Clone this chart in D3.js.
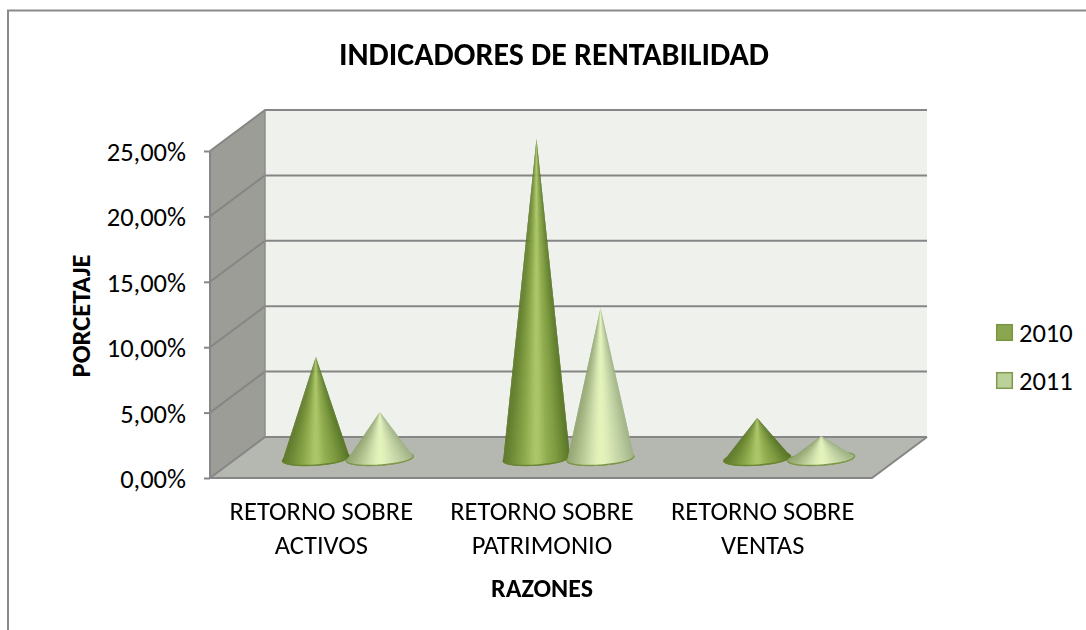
<!DOCTYPE html>
<html><head><meta charset="utf-8">
<script src="https://cdn.jsdelivr.net/npm/d3@7/dist/d3.min.js"></script>
<style>html,body{margin:0;padding:0;background:#fff}svg{display:block}text{font-family:Carlito,Calibri,Lato,sans-serif;fill:#000}</style>
</head><body><svg id="c" width="1086" height="630">
<defs><filter id="soft" x="-5%" y="-5%" width="110%" height="110%"><feGaussianBlur stdDeviation="0.45"/></filter></defs>
</svg>
<script>
const title = "INDICADORES DE RENTABILIDAD";
const yTitle = "PORCETAJE";
const xTitle = "RAZONES";
const categories = ["RETORNO SOBRE ACTIVOS","RETORNO SOBRE PATRIMONIO","RETORNO SOBRE VENTAS"];
const catLines = [["RETORNO SOBRE","ACTIVOS"],["RETORNO SOBRE","PATRIMONIO"],["RETORNO SOBRE","VENTAS"]];
const seriesNames = ["2010","2011"];
const values2010 = [7.68,24.35,3.02];
const values2011 = [3.48,11.43,1.64];
const yTicks = [0,5,10,15,20,25];
const ramp2010 = ["#587529","#6f8d36","#86a247","#92ae50","#b6d074","#98b455","#84a044","#6f8b38","#5f7a2c"];
const ramp2011 = ["#a0b286","#b6c89a","#c8d8a8","#dbeab8","#e8f8bc","#d8e8b4","#c0d09c","#a8b986","#94a674"];
const legendFill = ["#8aa650","#bcd09a"];
const legendStroke = ["#7a9642","#7f9a50"];
const rimFill = ["#8ca84a","#c4d69c"];
const rimStroke = ["#68842f","#7c9548"];

const svg = d3.select("#c");
const x0=210,x1=872,y0=478,y1=151,dx=55,dy=-41;
const y = d3.scaleLinear().domain([0,25]).range([y0,y1]);
const x = d3.scaleBand().domain(categories).range([x0,x1]);
const xs = d3.scaleBand().domain(seriesNames).range([-64,64]);
const line = d3.line();

// frame
svg.append("path").attr("d","M8,630V10.5H1086").attr("fill","none").attr("stroke","#8a8a8a").attr("stroke-width",2);

// walls
const wall = svg.append("g");
wall.append("path").attr("d",line([[x0+dx,y1+dy],[x1+dx,y1+dy],[x1+dx,y0+dy],[x0+dx,y0+dy]])+"Z").attr("fill","#eff1ec");
wall.append("path").attr("d",line([[x0,y0],[x0+dx,y0+dy],[x0+dx,y1+dy],[x0,y1]])+"Z").attr("fill","#9b9d96");
wall.append("path").attr("d",line([[x0,y0],[x0+dx,y0+dy],[x1+dx,y0+dy],[x1,y0]])+"Z").attr("fill","#b5b7b1");
// gridlines
yTicks.forEach(t=>{
  wall.append("path").attr("d",line([[x0,y(t)],[x0+dx,y(t)+dy],[x1+dx,y(t)+dy]]))
    .attr("fill","none").attr("stroke","#868686").attr("stroke-width",2);
});
wall.append("path").attr("d",line([[x0,y1],[x0,y0],[x1,y0],[x1+dx,y0+dy]])).attr("fill","none").attr("stroke","#868686").attr("stroke-width",2);
wall.append("path").attr("d",line([[x0+dx,y1+dy],[x0+dx,y0+dy]])).attr("fill","none").attr("stroke","#8d8e88").attr("stroke-width",1.5);

// y axis
const loc = d3.formatLocale({decimal:",",thousands:".",grouping:[3],currency:["",""]});
const fmt = v=>loc.format(".2f")(v)+"%";
const ax = svg.append("g").attr("transform",`translate(${x0},0)`)
  .call(d3.axisLeft(y).tickValues(yTicks).tickFormat(fmt).tickSize(6).tickPadding(18));
ax.select(".domain").remove();
ax.selectAll("line").attr("stroke","#868686").attr("stroke-width",2);
ax.selectAll("text").attr("font-size",26.5).attr("dy","0.36em").style("font-family","Carlito,Calibri,Lato,sans-serif");

// cones
const rx=33.5, ry=6.5, tilt=-4*Math.PI/180, N=50;
const color = [d3.interpolateRgbBasis(ramp2010), d3.interpolateRgbBasis(ramp2011)];
[values2010,values2011].forEach((vals,si)=>{
  const g = svg.append("g").attr("filter","url(#soft)");
  vals.forEach((v,ci)=>{
    const cx = x(categories[ci])+x.bandwidth()/2+dx/2+xs(seriesNames[si])+xs.bandwidth()/2;
    const cy = y(0)+dy/2+1;
    const tip = [cx, y(v)+dy/2];
    const pt = a=>{
      const ex=rx*Math.cos(a), ey=ry*Math.sin(a);
      return [cx+ex*Math.cos(tilt)-ey*Math.sin(tilt), cy+ex*Math.sin(tilt)+ey*Math.cos(tilt)];
    };
    g.append("ellipse").attr("cx",cx).attr("cy",cy).attr("rx",rx).attr("ry",ry)
      .attr("transform",`rotate(-4 ${cx} ${cy})`)
      .attr("fill",rimFill[si]).attr("stroke",rimStroke[si]).attr("stroke-width",1.5);
    for(let i=0;i<N;i++){
      const ang = k=>Math.PI*(1-Math.min(k,N)/N);
      const am = ang(i+.5);
      const c=color[si]((1+Math.cos(Math.PI-am))/2);
      g.append("path").attr("d",line([tip,pt(ang(i)),pt(ang(i+1)),pt(ang(i+2))])+"Z").attr("fill",c);
    }
    const arc = d3.range(0,N+1).map(i=>pt(Math.PI*(1-i/N)));
    g.append("path").attr("d",line(arc)).attr("fill","none").attr("stroke",rimStroke[si]).attr("stroke-width",1.2);
  });
});

// category labels
categories.forEach((c,i)=>{
  const t = svg.append("text").attr("text-anchor","middle").attr("font-size",26.5);
  catLines[i].forEach((l,j)=>t.append("tspan").attr("x",x(c)+x.bandwidth()/2+1).attr("y",520+j*34).text(l));
});
// titles
svg.append("text").attr("x",554).attr("y",65).attr("text-anchor","middle").attr("font-size",32).attr("font-weight","bold").text(title);
svg.append("text").attr("x",542).attr("y",597).attr("text-anchor","middle").attr("font-size",26).attr("font-weight","bold").text(xTitle);
svg.append("text").attr("transform","translate(90,316) rotate(-90)").attr("text-anchor","middle").attr("font-size",26.5).attr("font-weight","bold").text(yTitle);

// legend
const ly = d3.scalePoint().domain(seriesNames).range([332.5,380.5]);
seriesNames.forEach((s,i)=>{
  svg.append("rect").attr("x",996.7).attr("y",ly(s)-7.8).attr("width",15.6).attr("height",15.6)
    .attr("fill",legendFill[i]).attr("stroke",legendStroke[i]).attr("stroke-width",1.5);
  svg.append("text").attr("x",1019).attr("y",ly(s)+9).attr("font-size",26.5).text(s);
});
</script></body></html>
